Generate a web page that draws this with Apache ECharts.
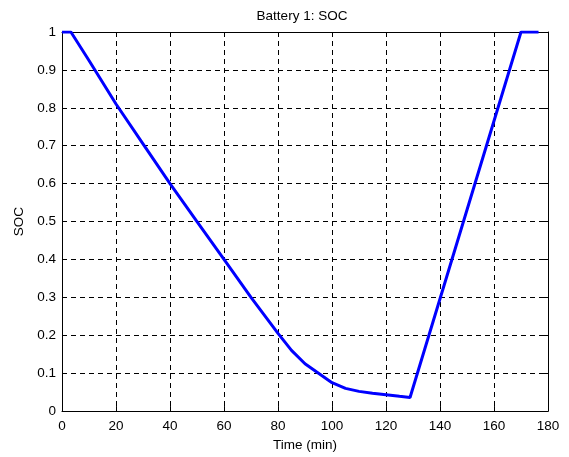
<!DOCTYPE html>
<html><head><meta charset="utf-8">
<script src="https://cdn.jsdelivr.net/npm/echarts@6/dist/echarts.min.js"></script>
<style>html,body{margin:0;padding:0;background:#fff}#c{width:569px;height:457px}</style>
</head><body><div id="c"></div>
<script>
var timeMin = [0, 3.3, 10, 20, 30, 40, 50, 60, 70, 80, 85, 90, 95, 100, 105, 110, 115, 120, 125, 128.9, 170, 176.5];
var soc = [1, 1, 0.925, 0.81, 0.705, 0.6, 0.5, 0.4, 0.3, 0.205, 0.16, 0.125, 0.1, 0.075, 0.06, 0.052, 0.047, 0.043, 0.039, 0.036, 1, 1];
var title = 'Battery 1: SOC';
var xName = 'Time (min)';
var yName = 'SOC';

var font = 'Arial, "Liberation Sans", sans-serif';
var fs = 13.5;
var data = timeMin.map(function (t, i) { return [t, soc[i]]; });
var chart = echarts.init(document.getElementById('c'), null, {renderer: 'canvas'});
var gridLine = {show: true, lineStyle: {color: '#000', type: [5, 4], width: 1}};
var axLine = {show: true, onZero: false, lineStyle: {color: '#000', width: 1}};
var tick = {show: true, inside: true, length: 5, lineStyle: {color: '#000'}};
chart.setOption({
  animation: false,
  backgroundColor: '#fff',
  title: {text: title, left: 302, top: 9, textAlign: 'center', padding: 0,
    textStyle: {fontFamily: font, fontSize: fs, fontWeight: 'normal', color: '#000'}},
  grid: {left: 62, right: 21, top: 32, bottom: 44},
  xAxis: [{
    type: 'value', min: 0, max: 180, interval: 20, position: 'bottom',
    name: xName, nameLocation: 'middle', nameGap: 24,
    nameTextStyle: {fontFamily: font, fontSize: fs, color: '#000'},
    axisLine: axLine, axisTick: tick, splitLine: gridLine,
    axisLabel: {fontFamily: font, fontSize: fs, color: '#000', margin: 8}
  }, {
    type: 'value', min: 0, max: 180, interval: 20, position: 'top',
    axisLine: axLine, axisTick: tick, splitLine: {show: false}, axisLabel: {show: false}
  }],
  yAxis: [{
    type: 'value', min: 0, max: 1, interval: 0.1, position: 'left',
    name: yName, nameLocation: 'middle', nameGap: 35, nameRotate: 90,
    nameTextStyle: {fontFamily: font, fontSize: fs, color: '#000'},
    axisLine: axLine, axisTick: tick, splitLine: gridLine,
    axisLabel: {fontFamily: font, fontSize: fs, color: '#000', margin: 6,
      formatter: function (v) { return String(Math.round(v * 10) / 10); }}
  }, {
    type: 'value', min: 0, max: 1, interval: 0.1, position: 'right',
    axisLine: axLine, axisTick: tick, splitLine: {show: false}, axisLabel: {show: false}
  }],
  series: [{
    type: 'line', data: data, xAxisIndex: 0, yAxisIndex: 0,
    showSymbol: false, smooth: false,
    lineStyle: {color: '#0000ff', width: 3}, itemStyle: {color: '#0000ff'}
  }]
});
</script></body></html>
